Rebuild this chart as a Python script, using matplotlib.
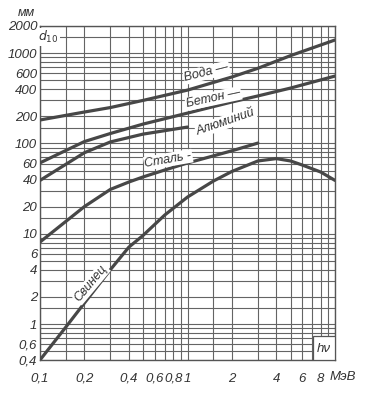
import matplotlib
matplotlib.use("Agg")
import matplotlib.pyplot as plt
from matplotlib.ticker import NullFormatter
from matplotlib.patches import Rectangle

plt.rcParams['font.family'] = ['Liberation Sans', 'DejaVu Sans']

# ---- data (energy in MeV, tenth-value layer d10 in mm) ----
water_e = [0.1, 0.2, 0.3, 0.5, 1.0, 2.0, 3.0, 5.0, 10.0]
water_d = [182, 223, 250, 300, 390, 545, 680, 940, 1400]

concrete_e = [0.1, 0.2, 0.3, 0.5, 1.0, 2.0, 3.0, 5.0, 10.0]
concrete_d = [61, 105, 129, 164, 217, 288, 336, 411, 558]

alum_e = [0.1, 0.2, 0.3, 0.5, 1.0]
alum_d = [39, 79, 104, 127, 152]

steel_e = [0.1, 0.2, 0.3, 0.4, 0.5, 0.7, 1.0, 2.0, 3.0]
steel_d = [8.1, 20, 31, 37.4, 42.6, 50.8, 60.8, 83, 101]

lead_e = [0.1, 0.15, 0.2, 0.3, 0.4, 0.5, 0.7, 1.0, 1.5, 2.0, 3.0, 4.0, 5.0, 6.0, 8.0, 10.0]
lead_d = [0.4, 0.93, 1.71, 4.0, 7.1, 9.6, 16.1, 25.5, 38.4, 49, 64, 68, 64, 57.7, 48.3, 39]

x_major = [0.1, 0.2, 0.4, 0.6, 0.8, 1, 2, 4, 6, 8]
x_labels = ['0,1', '0,2', '0,4', '0,6', '0,8', '1', '2', '4', '6', '8']
x_minor = [0.15, 0.3, 0.5, 0.7, 0.9, 1.5, 3, 5, 7, 9, 10]

y_major = [0.4, 0.6, 1, 2, 4, 6, 10, 20, 40, 60, 100, 200, 400, 600, 1000, 2000]
y_labels = ['0,4', '0,6', '1', '2', '4', '6', '10', '20', '40', '60',
            '100', '200', '400', '600', '1000', '2000']
y_minor = [0.5, 0.7, 0.8, 0.9, 1.5, 3, 5, 7, 8, 9, 15, 30, 50, 70, 80, 90,
           150, 300, 500, 700, 800, 900, 1500]

ink = '#474747'
gridc = '#646464'

fig = plt.figure(figsize=(3.82, 3.94), dpi=100)
ax = fig.add_axes([40/382, 34/394, 295/382, 334/394])
ax.set_xscale('log')
ax.set_yscale('log')
ax.set_xlim(0.1, 10)
ax.set_ylim(0.4, 2000)

ax.set_xticks(x_major)
ax.set_xticklabels(x_labels)
ax.set_xticks(x_minor, minor=True)
ax.set_yticks(y_major)
ax.set_yticklabels(y_labels)
ax.set_yticks(y_minor, minor=True)
ax.xaxis.set_minor_formatter(NullFormatter())
ax.yaxis.set_minor_formatter(NullFormatter())
ax.tick_params(which='both', length=0)
ax.tick_params(axis='x', pad=9, labelsize=9.5, labelcolor='#333')
ax.tick_params(axis='y', pad=2, labelsize=9.5, labelcolor='#333')
for lab in ax.get_xticklabels() + ax.get_yticklabels():
    lab.set_fontstyle('italic')
ax.grid(True, which='both', color=gridc, lw=0.8)
ax.set_axisbelow(True)
for s in ax.spines.values():
    s.set_color('#555')
    s.set_linewidth(1.0)

lw = 2.3
for e, d in [(water_e, water_d), (concrete_e, concrete_d), (alum_e, alum_d),
             (steel_e, steel_d), (lead_e, lead_d)]:
    ax.plot(e, d, color=ink, lw=lw, solid_capstyle='round', solid_joinstyle='round', zorder=3)

bb = dict(facecolor='white', edgecolor='none', pad=0.6)
tk = dict(color='#333', fontsize=9, fontstyle='italic', ha='center', va='center', zorder=4)
ax.text(1.35, 610, 'Вода —', rotation=14, bbox=bb, **tk)
ax.text(1.50, 315, 'Бетон —', rotation=12, bbox=bb, **tk)
ax.text(1.82, 173, 'Алюминий', rotation=19, bbox=bb, **tk)
ax.text(0.74, 66, 'Сталь -', rotation=10, bbox=bb, **tk)
ax.text(0.222, 2.8, 'Свинец', rotation=50, bbox=bb, **tk)
ax.text(0.114, 1500, r'$d_{10}$', bbox=bb, color='#333', fontsize=9,
        ha='center', va='center', zorder=4)

ax.add_patch(Rectangle((7.1, 0.4), 2.9, 0.34, facecolor='white', edgecolor='#555',
                       lw=0.9, zorder=4))
ax.text(8.4, 0.53, 'hν', color='#333', fontsize=9.5, fontstyle='italic',
        ha='center', va='center', zorder=5)

fig.text(26/382, 1 - 13/394, 'мм', color='#333', fontsize=9, fontstyle='italic',
         ha='center', va='center')
fig.text(343/382, 1 - 377/394, 'МэВ', color='#333', fontsize=9.5, fontstyle='italic',
         ha='center', va='center')

fig.savefig('out.png', dpi=100)
